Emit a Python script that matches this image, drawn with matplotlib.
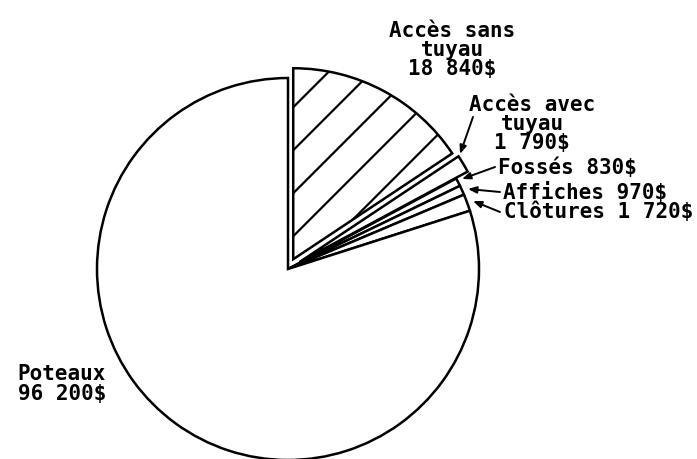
import matplotlib.pyplot as plt
import numpy as np

# coûts par poste
postes = ["Accès sans tuyau", "Accès avec tuyau", "Fossés", "Affiches", "Clôtures", "Poteaux"]
couts = [18840, 1790, 830, 970, 1720, 96200]
etiquettes = ["Accès sans\ntuyau\n18 840$", "Accès avec\ntuyau\n1 790$", "Fossés 830$",
              "Affiches 970$", "Clôtures 1 720$", "Poteaux\n96 200$"]

plt.rcParams['font.family'] = ['DejaVu Sans Mono']

fig = plt.figure(figsize=(6.97, 4.60), dpi=100)
ax = fig.add_axes([0, 0, 1, 1])

R = 191
# décalage des deux parts "Accès" (en unités de rayon)
eclatement = [0.058 * R, 0.07 * R, 0, 0, 0, 0]

wedges, _ = ax.pie(couts, center=(288, 190), radius=R, startangle=90, counterclock=False,
                   explode=eclatement, frame=True,
                   wedgeprops=dict(facecolor="white", edgecolor="black", linewidth=1.8))
ax.set_xlim(0, 697)
ax.set_ylim(0, 460)
ax.set_aspect('equal')
ax.axis('off')

# hachures larges dans la première part
w = wedges[0]
cx, cy = w.center
xs = np.array([cx - 250, cx + 250])
for d in [152, 109, 66, 23, -20]:
    ln, = ax.plot(xs, xs - cx + cy + d, color="black", linewidth=1.6)
    ln.set_clip_path(w)

txt = dict(fontsize=15, color="black", linespacing=0.95, fontweight="bold")
ax.text(452, 460 - 50, etiquettes[0], ha="center", va="center", **txt)
ax.text(532, 460 - 124, etiquettes[1], ha="center", va="center", **txt)
ax.text(498, 460 - 168, etiquettes[2], ha="left", va="center", **txt)
ax.text(503, 460 - 192, etiquettes[3], ha="left", va="center", **txt)
ax.text(504, 460 - 212, etiquettes[4], ha="left", va="center", **txt)
ax.text(62, 460 - 384, etiquettes[5], ha="center", va="center", **txt)

fleche = dict(arrowstyle="-|>,head_length=0.5,head_width=0.2", color="black", lw=1.4,
              shrinkA=0, shrinkB=0)
ax.annotate("", xy=(460, 460 - 155), xytext=(473, 460 - 118), arrowprops=fleche)
ax.annotate("", xy=(462, 460 - 180), xytext=(495, 460 - 168), arrowprops=fleche)
ax.annotate("", xy=(468, 460 - 190), xytext=(500, 460 - 193), arrowprops=fleche)
ax.annotate("", xy=(473, 460 - 202), xytext=(500, 460 - 213), arrowprops=fleche)

plt.savefig("out.png", dpi=100)
